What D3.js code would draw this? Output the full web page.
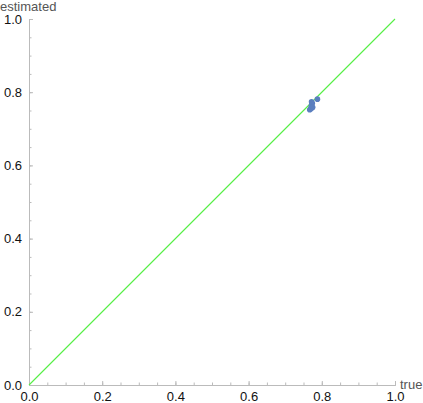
<!DOCTYPE html>
<html>
<head>
<meta charset="utf-8">
<script src="https://cdn.jsdelivr.net/npm/d3@7"></script>
<style>
  body { margin: 0; background: #fff; }
  .tick text { font-family: "Liberation Sans", Arial, sans-serif; font-size: 13px; fill: #111; }
  .axisLabel { font-family: "Liberation Sans", Arial, sans-serif; font-size: 13px; fill: #555; }
</style>
</head>
<body>
<div class="chart"></div>
<script>
// points (true, estimated)
var trueVals = [0.767, 0.770, 0.773, 0.771, 0.772, 0.774, 0.772, 0.775, 0.788];
var estVals  = [0.752, 0.755, 0.757, 0.760, 0.765, 0.770, 0.774, 0.759, 0.781];
var majorTicks = [0, 0.2, 0.4, 0.6, 0.8, 1.0];
var minorTicks = d3.range(0, 1.0001, 0.05);
var diagonal = [0, 1];

var svgWidth = 423;
var svgHeight = 403;
var margin = { top: 19, right: 28, bottom: 18, left: 29 };
var width = svgWidth - margin.left - margin.right;
var height = svgHeight - margin.top - margin.bottom;

var svg = d3.select(".chart")
  .append("svg")
  .attr("width", svgWidth)
  .attr("height", svgHeight);

var chartGroup = svg.append("g")
  .attr("transform", `translate(${margin.left}, ${margin.top})`);

var x = d3.scaleLinear().domain([0, 1]).range([0, width]);
var y = d3.scaleLinear().domain([0, 1]).range([height, 0]);

var axisColor = "#bbb";

// minor ticks
var bottomMinor = d3.axisBottom(x).tickValues(minorTicks).tickSize(-2.5).tickFormat("");
var leftMinor = d3.axisLeft(y).tickValues(minorTicks).tickSize(-2.5).tickFormat("");
var bottomAxis = d3.axisBottom(x).tickValues(majorTicks).tickSize(-4).tickPadding(7).tickFormat(d3.format(".1f"));
var leftAxis = d3.axisLeft(y).tickValues(majorTicks).tickSize(-4).tickPadding(7).tickFormat(d3.format(".1f"));

var gx = chartGroup.append("g").attr("transform", `translate(0,${height})`);
gx.append("g").call(bottomMinor);
gx.append("g").call(bottomAxis);
var gy = chartGroup.append("g");
gy.append("g").call(leftMinor);
gy.append("g").call(leftAxis);

chartGroup.selectAll(".domain").attr("stroke", axisColor);
chartGroup.selectAll(".tick line").attr("stroke", axisColor);

// diagonal reference line
chartGroup.append("line")
  .attr("x1", x(diagonal[0])).attr("y1", y(diagonal[0]))
  .attr("x2", x(diagonal[1])).attr("y2", y(diagonal[1]))
  .style("stroke", "#55ee44")
  .style("stroke-width", "1.1px");

// points
chartGroup.selectAll("circle")
  .data(trueVals)
  .enter()
  .append("circle")
  .attr("cx", (d, i) => x(d))
  .attr("cy", (d, i) => y(estVals[i]))
  .attr("r", 2.8)
  .attr("fill", "#5b7fbf");

// axis labels
svg.append("text")
  .attr("class", "axisLabel")
  .attr("x", 0)
  .attr("y", 11)
  .text("estimated");

svg.append("text")
  .attr("class", "axisLabel")
  .attr("x", 400)
  .attr("y", 389)
  .text("true");
</script>
</body>
</html>
